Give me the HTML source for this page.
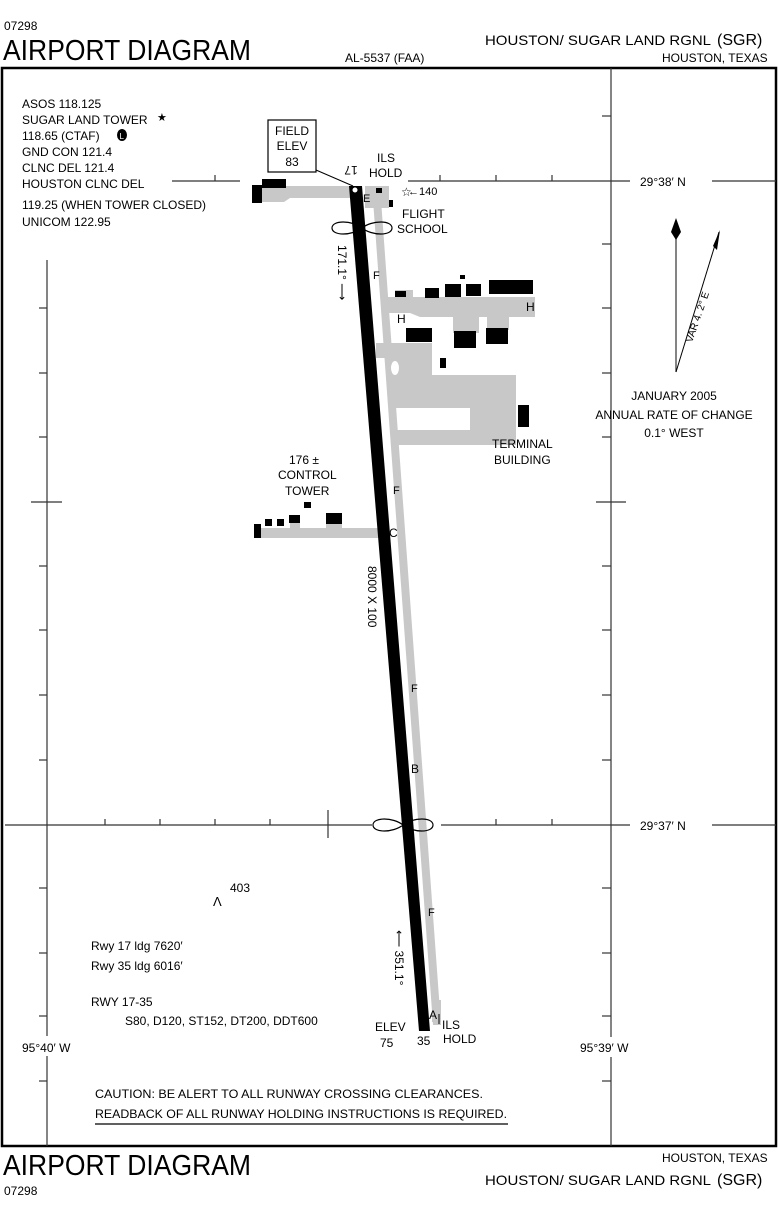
<!DOCTYPE html>
<html><head><meta charset="utf-8"><style>
html,body{margin:0;padding:0;background:#fff}
svg{display:block}
text{font-family:"Liberation Sans",sans-serif;fill:#000}
</style></head><body>
<svg width="778" height="1232" viewBox="0 0 778 1232" xmlns="http://www.w3.org/2000/svg">
<!-- header -->
<text x="4" y="30" font-size="12">07298</text>
<text x="3" y="60" font-size="29" textLength="248" lengthAdjust="spacingAndGlyphs">AIRPORT DIAGRAM</text>
<text x="345" y="62" font-size="12">AL-5537 (FAA)</text>
<text x="485" y="45" font-size="14" textLength="226" lengthAdjust="spacingAndGlyphs">HOUSTON/ SUGAR LAND RGNL</text>
<text x="717" y="45" font-size="16" font-family="Liberation Serif">(SGR)</text>
<text x="662" y="62" font-size="12">HOUSTON,  TEXAS</text>
<!-- frame -->
<rect x="2" y="68" width="774" height="1078" fill="none" stroke="#000" stroke-width="2.5"/>
<!-- grid -->
<g stroke="#333" stroke-width="1.2" fill="none">
<line x1="47" y1="260" x2="47" y2="1036"/><line x1="47" y1="1056" x2="47" y2="1146"/>
<line x1="611" y1="68" x2="611" y2="1037"/><line x1="611" y1="1057" x2="611" y2="1146"/>
<line x1="172" y1="181" x2="240" y2="181"/><line x1="215" y1="175" x2="215" y2="181"/>
<line x1="408" y1="181" x2="630" y2="181"/><line x1="712" y1="181" x2="776" y2="181"/>
<line x1="440" y1="175" x2="440" y2="181"/><line x1="496" y1="175" x2="496" y2="181"/><line x1="552" y1="175" x2="552" y2="181"/>
<line x1="5" y1="825" x2="372" y2="825"/><line x1="441" y1="825" x2="630" y2="825"/><line x1="712" y1="825" x2="776" y2="825"/>
<line x1="105" y1="819" x2="105" y2="825"/><line x1="160" y1="819" x2="160" y2="825"/><line x1="215" y1="819" x2="215" y2="825"/><line x1="270" y1="819" x2="270" y2="825"/><line x1="328" y1="810" x2="328" y2="838"/>
<line x1="496" y1="819" x2="496" y2="825"/><line x1="552" y1="819" x2="552" y2="825"/>
<line x1="31" y1="502" x2="62" y2="502"/><line x1="596" y1="502" x2="626" y2="502"/>
</g>
<g stroke="#333" stroke-width="1.2">
<line x1="39" y1="308" x2="47" y2="308"/><line x1="39" y1="373" x2="47" y2="373"/><line x1="39" y1="437" x2="47" y2="437"/>
<line x1="39" y1="566" x2="47" y2="566"/><line x1="39" y1="630" x2="47" y2="630"/><line x1="39" y1="695" x2="47" y2="695"/><line x1="39" y1="760" x2="47" y2="760"/>
<line x1="39" y1="888" x2="47" y2="888"/><line x1="39" y1="953" x2="47" y2="953"/><line x1="39" y1="1016" x2="47" y2="1016"/><line x1="39" y1="1081" x2="47" y2="1081"/>
<line x1="602" y1="116" x2="611" y2="116"/><line x1="602" y1="244" x2="611" y2="244"/><line x1="602" y1="308" x2="611" y2="308"/><line x1="602" y1="373" x2="611" y2="373"/><line x1="602" y1="437" x2="611" y2="437"/>
<line x1="602" y1="566" x2="611" y2="566"/><line x1="602" y1="630" x2="611" y2="630"/><line x1="602" y1="695" x2="611" y2="695"/><line x1="602" y1="760" x2="611" y2="760"/>
<line x1="602" y1="888" x2="611" y2="888"/><line x1="602" y1="953" x2="611" y2="953"/><line x1="602" y1="1016" x2="611" y2="1016"/><line x1="602" y1="1081" x2="611" y2="1081"/>
</g>
<text x="640" y="186" font-size="12">29°38′ N</text>
<text x="640" y="830" font-size="12">29°37′ N</text>
<text x="22" y="1052" font-size="12">95°40′ W</text>
<text x="580" y="1052" font-size="12">95°39′ W</text>
<!-- freq box -->
<g font-size="12">
<text x="22" y="108">ASOS  118.125</text>
<text x="22" y="124">SUGAR LAND TOWER</text><text x="157" y="121" font-size="11">★</text>
<text x="22" y="140">118.65 (CTAF)</text><ellipse cx="122" cy="135" rx="5" ry="6"/><text x="119.5" y="139" font-size="8" style="fill:#fff">L</text>
<text x="22" y="156">GND CON  121.4</text>
<text x="22" y="172">CLNC DEL  121.4</text>
<text x="22" y="188">HOUSTON CLNC DEL</text>
<text x="22" y="209">119.25  (WHEN TOWER CLOSED)</text>
<text x="22" y="226">UNICOM  122.95</text>
</g>
<!-- taxiways gray -->
<g fill="#c8c8c8">
<polygon points="372,186 380,186 441,1025 433,1025"/>
<polygon points="262,186 352,186 352,198 290,198 284,202 262,202"/>
<rect x="365" y="186" width="24" height="22"/>
<polygon points="386,297 535,297 535,317 420,317 410,313 386,313"/>
<rect x="395" y="290" width="18" height="12"/>
<rect x="453" y="310" width="26" height="23"/><rect x="487" y="310" width="22" height="20"/>
<polygon points="376,343 432,343 432,375 516,375 516,445 392,445 392,430 470,430 470,408 392,408 392,358 376,358"/>
<polygon points="378,528 258,528 258,538 383,538"/>
<rect x="290" y="522" width="10" height="8"/><rect x="326" y="522" width="16" height="8"/>
<rect x="432" y="1000" width="9" height="22"/>
</g>
<ellipse cx="395" cy="368" rx="4" ry="7" fill="#fff"/>
<!-- buildings -->
<g fill="#000">
<rect x="252" y="185" width="10" height="18"/><rect x="262" y="179" width="24" height="9"/>
<rect x="376" y="188" width="6" height="5"/><rect x="389" y="200" width="4" height="7"/>
<rect x="395" y="291" width="11" height="6"/><rect x="425" y="288" width="14" height="10"/><rect x="445" y="284" width="16" height="13"/><rect x="466" y="284" width="15" height="12"/><rect x="489" y="280" width="44" height="14"/><rect x="460" y="275" width="5" height="4"/>
<rect x="406" y="328" width="26" height="14"/><rect x="454" y="331" width="22" height="17"/><rect x="486" y="328" width="22" height="16"/><rect x="440" y="358" width="6" height="10"/>
<rect x="518" y="405" width="11" height="22"/>
<rect x="254" y="524" width="7" height="14"/><rect x="265" y="519" width="7" height="7"/><rect x="277" y="519" width="7" height="7"/><rect x="289" y="515" width="11" height="8"/><rect x="326" y="513" width="16" height="11"/><rect x="304" y="502" width="7" height="6"/>
</g>
<!-- runway -->
<polygon points="349,186 362,186 430,1031 419,1031" fill="#000"/>
<circle cx="355" cy="190" r="2.5" fill="#fff"/>
<!-- figure eights -->
<g fill="none" stroke="#000" stroke-width="1.2">
<path d="M 362 228 C 352 220, 332 220, 332 228 C 332 236, 352 236, 362 228 C 372 220, 392 220, 392 228 C 392 236, 372 236, 362 228 Z"/>
<path d="M 403 825 C 393 817, 373 817, 373 825 C 373 833, 393 833, 403 825 C 413 817, 433 817, 433 825 C 433 833, 413 833, 403 825 Z"/>
</g>
<!-- field elev box -->
<rect x="268" y="120" width="48" height="52" fill="#fff" stroke="#000" stroke-width="1.2"/>
<g font-size="12" text-anchor="middle"><text x="292" y="135">FIELD</text><text x="292" y="150">ELEV</text><text x="292" y="166">83</text></g>
<line x1="316" y1="170" x2="353" y2="186" stroke="#000" stroke-width="1"/>
<text x="351" y="166" font-size="12" transform="rotate(180 351 166)" text-anchor="middle">17</text>
<g font-size="12">
<text x="377" y="162">ILS</text><text x="369" y="177">HOLD</text>
<text x="363" y="202" font-size="11">E</text>
<text x="401" y="196">☆</text><text x="408" y="195" font-size="11">←140</text>
<text x="402" y="218">FLIGHT</text><text x="397" y="233">SCHOOL</text>
<text x="373" y="279" font-size="11">F</text>
<text x="397" y="323">H</text><text x="526" y="311">H</text>
<text x="492" y="448">TERMINAL</text><text x="494" y="464">BUILDING</text>
<text x="393" y="494" font-size="11">F</text>
<text x="389" y="537">C</text>
<text x="411" y="692" font-size="11">F</text>
<text x="411" y="773">B</text>
<text x="428" y="916" font-size="11">F</text>
<text x="429" y="1019">A</text>
<text x="442" y="1029">ILS</text><text x="443" y="1043">HOLD</text>
<text x="375" y="1031">ELEV</text><text x="380" y="1047">75</text>
<text x="417" y="1045">35</text>
<text x="289" y="464">176 ±</text>
<text x="278" y="479">CONTROL</text><text x="285" y="495">TOWER</text>
<text x="230" y="892">403</text>
<text x="213" y="906" font-size="13">Λ</text>
<text x="91" y="950">Rwy 17 ldg 7620′</text>
<text x="91" y="970">Rwy 35 ldg 6016′</text>
<text x="91" y="1006">RWY 17-35</text>
<text x="125" y="1025">S80, D120, ST152, DT200, DDT600</text>
</g>
<line x1="439" y1="1014" x2="439" y2="1024" stroke="#000" stroke-width="1"/>
<!-- rotated labels -->
<text x="338" y="245" font-size="12" transform="rotate(90 338 245)">171.1° ⟶</text>
<text x="368" y="566" font-size="12" transform="rotate(90 368 566)">8000 X 100</text>
<text x="395" y="930" font-size="12" transform="rotate(90 395 930)">⟵ 351.1°</text>
<!-- north arrow -->
<line x1="676" y1="232" x2="676" y2="372" stroke="#333" stroke-width="1.2"/>
<polygon points="676,218 681,232 676,240 671,232" fill="#000"/>
<line x1="676" y1="372" x2="719" y2="232" stroke="#000" stroke-width="1"/>
<polygon points="720,230 717,250 713,246" fill="#000"/>
<text x="692" y="343" font-size="10" transform="rotate(-71 692 343)">VAR 4. 2°  E</text>
<g font-size="12" text-anchor="middle"><text x="674" y="400">JANUARY 2005</text><text x="674" y="419">ANNUAL RATE OF CHANGE</text><text x="674" y="437">0.1° WEST</text></g>
<!-- caution -->
<text x="95" y="1098" font-size="12" textLength="388" lengthAdjust="spacingAndGlyphs">CAUTION:  BE ALERT TO ALL RUNWAY CROSSING CLEARANCES.</text>
<text x="95" y="1118" font-size="12" textLength="412" lengthAdjust="spacingAndGlyphs">READBACK OF ALL RUNWAY HOLDING INSTRUCTIONS IS REQUIRED.</text>
<line x1="95" y1="1124" x2="508" y2="1124" stroke="#000" stroke-width="1.2"/>
<!-- footer -->
<text x="3" y="1175" font-size="29" textLength="248" lengthAdjust="spacingAndGlyphs">AIRPORT DIAGRAM</text>
<text x="4" y="1195" font-size="12">07298</text>
<text x="662" y="1162" font-size="12">HOUSTON,  TEXAS</text>
<text x="485" y="1185" font-size="14" textLength="226" lengthAdjust="spacingAndGlyphs">HOUSTON/ SUGAR LAND RGNL</text>
<text x="717" y="1185" font-size="16" font-family="Liberation Serif">(SGR)</text>
</svg>
</body></html>
